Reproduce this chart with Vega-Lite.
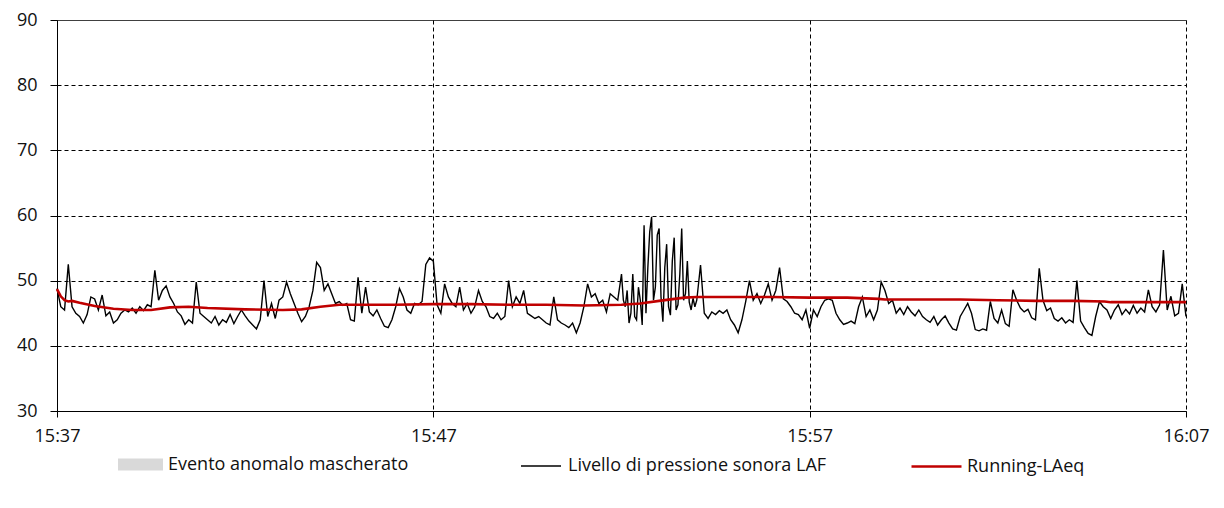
{
  "$schema": "https://vega.github.io/schema/vega-lite/v6.json",
  "width": 1129,
  "height": 391,
  "autosize": {"type": "none"},
  "padding": {"left": 57, "top": 20, "right": 38, "bottom": 97},
  "background": "white",
  "config": {
    "view": {"stroke": null},
    "font": "Open Sans",
    "axis": {
      "domainColor": "black",
      "domainWidth": 1,
      "tickColor": "black",
      "tickSize": 7,
      "labelFont": "Open Sans",
      "labelFontSize": 18,
      "labelColor": "#111",
      "gridColor": "black",
      "gridWidth": 1,
      "gridOpacity": 1,
      "title": null
    },
    "legend": {
      "labelFont": "Open Sans",
      "labelFontSize": 18,
      "labelColor": "#111",
      "labelLimit": 500,
      "padding": 0,
      "title": null
    }
  },
  "layer": [
    {
      "data": {"values": []},
      "mark": {"type": "rect"},
      "encoding": {
        "x": {"field": "start", "type": "temporal", "scale": {"domain": [{"year": 1900, "month": 1, "date": 1, "hours": 15, "minutes": 37}, {"year": 1900, "month": 1, "date": 1, "hours": 16, "minutes": 7}]}},
        "x2": {"field": "end"},
        "fill": {
          "datum": "Evento anomalo mascherato",
          "scale": {"range": ["#d9d9d9"]},
          "legend": {"orient": "none", "legendX": 61, "legendY": 422, "symbolType": "M-1,-0.27L1,-0.27L1,0.27L-1,0.27Z", "symbolSize": 2025, "symbolStrokeWidth": 0, "labelOffset": 5}
        }
      }
    },
    {
      "data": {
        "format": {"parse": {"t": "date:'%H:%M:%S'"}},
        "values": [
          {"t":"15:37:00","v":48.8},{"t":"15:37:06","v":46},{"t":"15:37:12","v":45.5},{"t":"15:37:18","v":52.5},{"t":"15:37:24","v":46},{"t":"15:37:30","v":45},{"t":"15:37:36","v":44.5},{"t":"15:37:42","v":43.5},{"t":"15:37:48","v":44.8},{"t":"15:37:54","v":47.5},
          {"t":"15:38:00","v":47.2},{"t":"15:38:06","v":45.5},{"t":"15:38:12","v":47.8},{"t":"15:38:18","v":44.6},{"t":"15:38:24","v":45.2},{"t":"15:38:30","v":43.5},{"t":"15:38:36","v":44},{"t":"15:38:42","v":45},{"t":"15:38:48","v":45.5},{"t":"15:38:54","v":45.2},
          {"t":"15:39:00","v":45.8},{"t":"15:39:06","v":45},{"t":"15:39:12","v":46},{"t":"15:39:18","v":45.4},{"t":"15:39:24","v":46.3},{"t":"15:39:30","v":46},{"t":"15:39:36","v":51.6},{"t":"15:39:42","v":47},{"t":"15:39:48","v":48.5},{"t":"15:39:54","v":49.2},
          {"t":"15:40:00","v":47.5},{"t":"15:40:06","v":46.5},{"t":"15:40:12","v":45.2},{"t":"15:40:18","v":44.6},{"t":"15:40:24","v":43.3},{"t":"15:40:30","v":44},{"t":"15:40:36","v":43.5},{"t":"15:40:42","v":49.8},{"t":"15:40:48","v":45},{"t":"15:40:54","v":44.5},
          {"t":"15:41:00","v":44},{"t":"15:41:06","v":43.5},{"t":"15:41:12","v":44.5},{"t":"15:41:18","v":43.2},{"t":"15:41:24","v":44},{"t":"15:41:30","v":43.6},{"t":"15:41:36","v":44.8},{"t":"15:41:42","v":43.4},{"t":"15:41:48","v":44.5},{"t":"15:41:54","v":45.5},
          {"t":"15:42:00","v":44.6},{"t":"15:42:06","v":43.8},{"t":"15:42:12","v":43.2},{"t":"15:42:18","v":42.6},{"t":"15:42:24","v":44},{"t":"15:42:30","v":50},{"t":"15:42:36","v":44.5},{"t":"15:42:42","v":46.5},{"t":"15:42:48","v":44.2},{"t":"15:42:54","v":47},
          {"t":"15:43:00","v":47.5},{"t":"15:43:06","v":49.8},{"t":"15:43:12","v":48},{"t":"15:43:18","v":46.5},{"t":"15:43:24","v":45},{"t":"15:43:30","v":43.7},{"t":"15:43:36","v":44.5},{"t":"15:43:42","v":46},{"t":"15:43:48","v":48.5},{"t":"15:43:54","v":52.8},
          {"t":"15:44:00","v":52},{"t":"15:44:06","v":48.5},{"t":"15:44:12","v":49.5},{"t":"15:44:18","v":48},{"t":"15:44:24","v":46.5},{"t":"15:44:30","v":46.8},{"t":"15:44:36","v":46.2},{"t":"15:44:42","v":46.5},{"t":"15:44:48","v":44},{"t":"15:44:54","v":43.8},
          {"t":"15:45:00","v":50.5},{"t":"15:45:06","v":45},{"t":"15:45:12","v":49},{"t":"15:45:18","v":45.2},{"t":"15:45:24","v":44.6},{"t":"15:45:30","v":45.5},{"t":"15:45:36","v":44.2},{"t":"15:45:42","v":43},{"t":"15:45:48","v":42.8},{"t":"15:45:54","v":44},
          {"t":"15:46:00","v":46},{"t":"15:46:06","v":48.8},{"t":"15:46:12","v":47.5},{"t":"15:46:18","v":45.5},{"t":"15:46:24","v":45},{"t":"15:46:30","v":46.5},{"t":"15:46:36","v":46.3},{"t":"15:46:42","v":46.8},{"t":"15:46:48","v":52.5},{"t":"15:46:54","v":53.5},
          {"t":"15:47:00","v":53},{"t":"15:47:06","v":46.3},{"t":"15:47:12","v":45},{"t":"15:47:18","v":49.5},{"t":"15:47:24","v":47.5},{"t":"15:47:30","v":46.5},{"t":"15:47:36","v":46},{"t":"15:47:42","v":49},{"t":"15:47:48","v":45.5},{"t":"15:47:54","v":46.5},
          {"t":"15:48:00","v":45},{"t":"15:48:06","v":46},{"t":"15:48:12","v":48.5},{"t":"15:48:18","v":46.8},{"t":"15:48:24","v":46},{"t":"15:48:30","v":44.5},{"t":"15:48:36","v":44.2},{"t":"15:48:42","v":45},{"t":"15:48:48","v":44},{"t":"15:48:54","v":44.5},
          {"t":"15:49:00","v":50},{"t":"15:49:06","v":46},{"t":"15:49:12","v":47.5},{"t":"15:49:18","v":46.5},{"t":"15:49:24","v":48.5},{"t":"15:49:30","v":45},{"t":"15:49:36","v":44.6},{"t":"15:49:42","v":44.2},{"t":"15:49:48","v":44.5},{"t":"15:49:54","v":44},
          {"t":"15:50:00","v":43.5},{"t":"15:50:06","v":43.2},{"t":"15:50:12","v":47.5},{"t":"15:50:18","v":44},{"t":"15:50:24","v":43.5},{"t":"15:50:30","v":43.2},{"t":"15:50:36","v":42.8},{"t":"15:50:42","v":43.5},{"t":"15:50:48","v":42},{"t":"15:50:54","v":43.5},
          {"t":"15:51:00","v":46},{"t":"15:51:06","v":49.5},{"t":"15:51:12","v":47.5},{"t":"15:51:18","v":48},{"t":"15:51:24","v":46.5},{"t":"15:51:30","v":47},{"t":"15:51:36","v":45.2},{"t":"15:51:42","v":48},{"t":"15:51:48","v":47.5},{"t":"15:51:54","v":47},
          {"t":"15:52:00","v":51},{"t":"15:52:03","v":47},{"t":"15:52:06","v":46},{"t":"15:52:09","v":48.5},{"t":"15:52:12","v":43.5},{"t":"15:52:15","v":45},{"t":"15:52:18","v":51},{"t":"15:52:21","v":44.5},{"t":"15:52:24","v":44},{"t":"15:52:27","v":49},
          {"t":"15:52:30","v":47},{"t":"15:52:33","v":43.2},{"t":"15:52:36","v":58.5},{"t":"15:52:39","v":45},{"t":"15:52:42","v":52},{"t":"15:52:45","v":57.5},{"t":"15:52:48","v":59.8},{"t":"15:52:51","v":47},{"t":"15:52:54","v":49},{"t":"15:52:57","v":57},
          {"t":"15:53:00","v":58},{"t":"15:53:03","v":47.5},{"t":"15:53:06","v":43.7},{"t":"15:53:09","v":52},{"t":"15:53:12","v":55.6},{"t":"15:53:15","v":46},{"t":"15:53:18","v":44.7},{"t":"15:53:21","v":53},{"t":"15:53:24","v":56.6},{"t":"15:53:27","v":45.5},
          {"t":"15:53:30","v":46.3},{"t":"15:53:33","v":51},{"t":"15:53:36","v":58},{"t":"15:53:39","v":47},{"t":"15:53:42","v":48},{"t":"15:53:45","v":53},{"t":"15:53:48","v":46.7},{"t":"15:53:51","v":45.5},{"t":"15:53:54","v":47.3},{"t":"15:53:57","v":46},
          {"t":"15:54:00","v":47},{"t":"15:54:06","v":52.4},{"t":"15:54:12","v":45},{"t":"15:54:18","v":44.2},{"t":"15:54:24","v":45.2},{"t":"15:54:30","v":44.8},{"t":"15:54:36","v":45.4},{"t":"15:54:42","v":45},{"t":"15:54:48","v":45.5},{"t":"15:54:54","v":44},
          {"t":"15:55:00","v":43.2},{"t":"15:55:06","v":42},{"t":"15:55:12","v":44},{"t":"15:55:18","v":46.8},{"t":"15:55:24","v":50},{"t":"15:55:30","v":47},{"t":"15:55:36","v":48},{"t":"15:55:42","v":46.5},{"t":"15:55:48","v":47.8},{"t":"15:55:54","v":49.5},
          {"t":"15:56:00","v":47},{"t":"15:56:06","v":48.5},{"t":"15:56:12","v":52},{"t":"15:56:18","v":47.2},{"t":"15:56:24","v":46.8},{"t":"15:56:30","v":46},{"t":"15:56:36","v":45},{"t":"15:56:42","v":44.8},{"t":"15:56:48","v":44},{"t":"15:56:54","v":45.5},
          {"t":"15:57:00","v":42.7},{"t":"15:57:06","v":45.5},{"t":"15:57:12","v":44.5},{"t":"15:57:18","v":46},{"t":"15:57:24","v":47},{"t":"15:57:30","v":47.2},{"t":"15:57:36","v":47},{"t":"15:57:42","v":45},{"t":"15:57:48","v":44},{"t":"15:57:54","v":43.3},
          {"t":"15:58:00","v":43.5},{"t":"15:58:06","v":43.8},{"t":"15:58:12","v":43.4},{"t":"15:58:18","v":46},{"t":"15:58:24","v":47.5},{"t":"15:58:30","v":44.5},{"t":"15:58:36","v":45.5},{"t":"15:58:42","v":44},{"t":"15:58:48","v":45.5},{"t":"15:58:54","v":49.8},
          {"t":"15:59:00","v":48.5},{"t":"15:59:06","v":46.5},{"t":"15:59:12","v":47},{"t":"15:59:18","v":45},{"t":"15:59:24","v":45.8},{"t":"15:59:30","v":44.8},{"t":"15:59:36","v":46},{"t":"15:59:42","v":45.2},{"t":"15:59:48","v":44.6},{"t":"15:59:54","v":45.5},
          {"t":"16:00:00","v":44.5},{"t":"16:00:06","v":44},{"t":"16:00:12","v":43.6},{"t":"16:00:18","v":44.5},{"t":"16:00:24","v":43.2},{"t":"16:00:30","v":44},{"t":"16:00:36","v":44.6},{"t":"16:00:42","v":43.5},{"t":"16:00:48","v":42.6},{"t":"16:00:54","v":42.4},
          {"t":"16:01:00","v":44.5},{"t":"16:01:06","v":45.5},{"t":"16:01:12","v":46.5},{"t":"16:01:18","v":45},{"t":"16:01:24","v":42.5},{"t":"16:01:30","v":42.3},{"t":"16:01:36","v":42.6},{"t":"16:01:42","v":42.4},{"t":"16:01:48","v":46.8},{"t":"16:01:54","v":44.2},
          {"t":"16:02:00","v":43.5},{"t":"16:02:06","v":45.5},{"t":"16:02:12","v":43.4},{"t":"16:02:18","v":43},{"t":"16:02:24","v":48.6},{"t":"16:02:30","v":47},{"t":"16:02:36","v":45.8},{"t":"16:02:42","v":45.2},{"t":"16:02:48","v":45.6},{"t":"16:02:54","v":44.3},
          {"t":"16:03:00","v":44},{"t":"16:03:06","v":51.9},{"t":"16:03:12","v":47},{"t":"16:03:18","v":45.4},{"t":"16:03:24","v":45.8},{"t":"16:03:30","v":44.2},{"t":"16:03:36","v":43.8},{"t":"16:03:42","v":44.3},{"t":"16:03:48","v":43.5},{"t":"16:03:54","v":44},
          {"t":"16:04:00","v":43.6},{"t":"16:04:06","v":50},{"t":"16:04:12","v":43.8},{"t":"16:04:18","v":42.8},{"t":"16:04:24","v":41.9},{"t":"16:04:30","v":41.6},{"t":"16:04:36","v":44.5},{"t":"16:04:42","v":46.8},{"t":"16:04:48","v":46},{"t":"16:04:54","v":45.5},
          {"t":"16:05:00","v":44.2},{"t":"16:05:06","v":45.5},{"t":"16:05:12","v":46.3},{"t":"16:05:18","v":44.8},{"t":"16:05:24","v":45.6},{"t":"16:05:30","v":44.9},{"t":"16:05:36","v":46.2},{"t":"16:05:42","v":45},{"t":"16:05:48","v":45.8},{"t":"16:05:54","v":45.2},
          {"t":"16:06:00","v":48.6},{"t":"16:06:06","v":46},{"t":"16:06:12","v":45.2},{"t":"16:06:18","v":46.3},{"t":"16:06:24","v":54.7},{"t":"16:06:30","v":45.5},{"t":"16:06:36","v":47.6},{"t":"16:06:42","v":44.6},{"t":"16:06:48","v":45},{"t":"16:06:54","v":49.5},
          {"t":"16:07:00","v":44.5}
        ]
      },
      "mark": {"type": "line", "strokeWidth": 1.4, "interpolate": "linear"},
      "encoding": {
        "x": {
          "field": "t",
          "type": "temporal",
          "scale": {"domain": [{"year": 1900, "month": 1, "date": 1, "hours": 15, "minutes": 37}, {"year": 1900, "month": 1, "date": 1, "hours": 16, "minutes": 7}]},
          "axis": {
            "values": [
              {"year": 1900, "month": 1, "date": 1, "hours": 15, "minutes": 37},
              {"year": 1900, "month": 1, "date": 1, "hours": 15, "minutes": 47},
              {"year": 1900, "month": 1, "date": 1, "hours": 15, "minutes": 57},
              {"year": 1900, "month": 1, "date": 1, "hours": 16, "minutes": 7}
            ],
            "format": "%H:%M",
            "grid": true,
            "gridDash": [4, 3],
            "tickSize": 6,
            "labelPadding": 10,
            "labelFlush": false
          }
        },
        "y": {
          "field": "v",
          "type": "quantitative",
          "scale": {"domain": [30, 90], "nice": false, "zero": false},
          "axis": {
            "values": [30, 40, 50, 60, 70, 80, 90],
            "grid": true,
            "gridDash": {"condition": {"test": "datum.value == 90", "value": [1, 0]}, "value": [4, 3]},
            "tickSize": 7,
            "labelPadding": 13
          }
        },
        "stroke": {
          "datum": "Livello di pressione sonora LAF",
          "scale": {"range": ["black"]},
          "legend": {"orient": "none", "legendX": 463, "legendY": 425, "symbolType": "stroke", "symbolSize": 1600, "symbolStrokeWidth": 1.5, "labelOffset": 6}
        }
      }
    },
    {
      "data": {
        "format": {"parse": {"t": "date:'%H:%M:%S'"}},
        "values": [
          {"t":"15:37:00","v":48.7},{"t":"15:37:06","v":47.6},{"t":"15:37:12","v":47.0},{"t":"15:37:18","v":46.8},{"t":"15:37:24","v":46.9},{"t":"15:37:36","v":46.6},
          {"t":"15:38:00","v":46.1},{"t":"15:38:30","v":45.7},{"t":"15:39:00","v":45.5},{"t":"15:39:30","v":45.5},{"t":"15:40:00","v":45.9},{"t":"15:40:30","v":46.0},
          {"t":"15:41:00","v":45.8},{"t":"15:42:00","v":45.6},{"t":"15:43:00","v":45.5},{"t":"15:43:30","v":45.6},{"t":"15:44:00","v":46.0},{"t":"15:44:30","v":46.3},
          {"t":"15:45:00","v":46.3},{"t":"15:46:00","v":46.3},{"t":"15:47:00","v":46.4},{"t":"15:48:00","v":46.4},{"t":"15:49:00","v":46.3},{"t":"15:50:00","v":46.3},
          {"t":"15:51:00","v":46.2},{"t":"15:52:00","v":46.3},{"t":"15:52:30","v":46.5},{"t":"15:53:00","v":46.9},{"t":"15:53:40","v":47.4},{"t":"15:54:00","v":47.5},
          {"t":"15:55:00","v":47.5},{"t":"15:56:00","v":47.5},{"t":"15:57:00","v":47.4},{"t":"15:58:00","v":47.4},{"t":"15:58:50","v":47.2},{"t":"15:59:00","v":47.1},
          {"t":"16:00:00","v":47.1},{"t":"16:01:00","v":47.1},{"t":"16:02:00","v":47.0},{"t":"16:03:00","v":46.9},{"t":"16:04:00","v":46.9},{"t":"16:04:50","v":46.8},
          {"t":"16:05:00","v":46.7},{"t":"16:06:00","v":46.7},{"t":"16:07:00","v":46.7}
        ]
      },
      "mark": {"type": "line", "strokeWidth": 2.6},
      "encoding": {
        "x": {"field": "t", "type": "temporal", "scale": {"domain": [{"year": 1900, "month": 1, "date": 1, "hours": 15, "minutes": 37}, {"year": 1900, "month": 1, "date": 1, "hours": 16, "minutes": 7}]}},
        "y": {"field": "v", "type": "quantitative", "scale": {"domain": [30, 90], "nice": false, "zero": false}},
        "color": {
          "datum": "Running-LAeq",
          "scale": {"range": ["#c00000"]},
          "legend": {"orient": "none", "legendX": 853, "legendY": 420, "symbolType": "stroke", "symbolSize": 2500, "symbolStrokeWidth": 2.6, "labelOffset": 4}
        }
      }
    }
  ]
}
